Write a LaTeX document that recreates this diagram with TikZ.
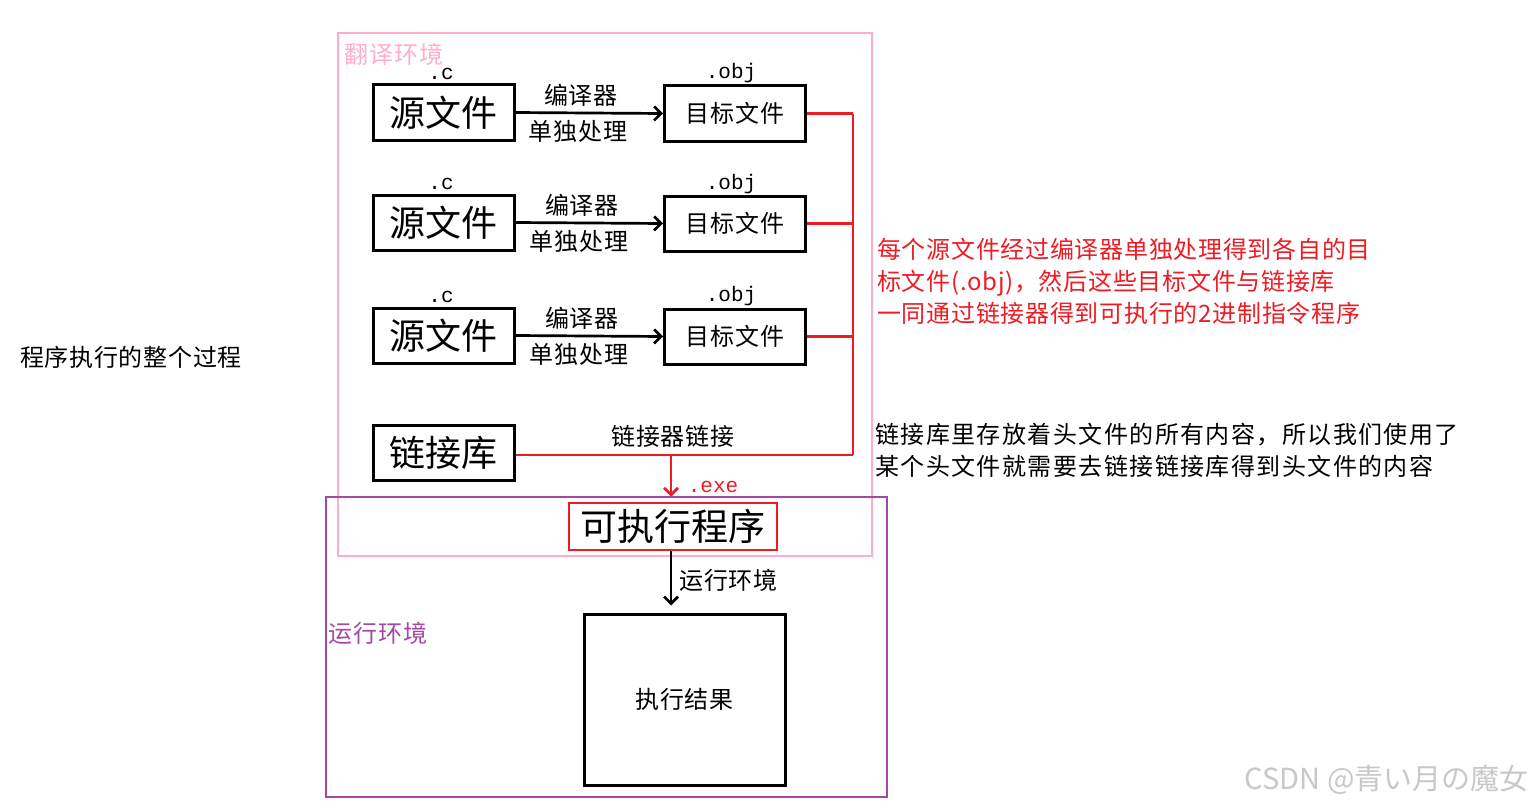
\documentclass[tikz,border=0pt]{standalone}
\usepackage{fontspec}
\setmainfont{Noto Sans CJK SC}
\newfontfamily\jpfont{Noto Sans CJK JP}
\newfontfamily\monof{Liberation Mono}
\newfontfamily\spacedf[LetterSpace=3]{Noto Sans CJK SC}
\newfontfamily\widef[LetterSpace=6]{Noto Sans CJK SC}
\usetikzlibrary{arrows.meta}
\definecolor{pinkc}{RGB}{255,174,201}
\definecolor{purplec}{RGB}{163,73,164}
\definecolor{redc}{RGB}{237,28,36}
\definecolor{wmc}{RGB}{200,200,200}
\begin{document}
\begin{tikzpicture}[x=1pt,y=-1pt,
  box/.style={draw=black,line width=3pt,inner sep=0pt,minimum width=141pt,minimum height=55pt},
  bigtxt/.style={font=\fontsize{36}{38}\selectfont},
  smalltxt/.style={font=\spacedf\fontsize{24}{32}\selectfont},
  monotxt/.style={font=\monof\fontsize{21}{22}\selectfont,inner sep=0pt},
  arr/.style={line width=2.7pt,-{Straight Barb[length=7pt,width=14pt,line width=2.7pt]}},
  redline/.style={draw=redc,line width=2.5pt},
  envbox/.style={line width=2.5pt}]
\useasboundingbox (0,0) rectangle (1535,808);
% environment frames
\draw[envbox,draw=pinkc] (338,33) rectangle (872,556);
\draw[envbox,draw=purplec] (326,497) rectangle (887,797);
\node[smalltxt,text=pinkc,inner sep=0pt] (lbltrans) at (394,54) {翻译环境};
\node[smalltxt,text=purplec,inner sep=0pt] (lblrun) at (378,633) {运行环境};
% source boxes
\node[box,bigtxt] (src1) at (443.5,112.5) {源文件};
\node[box,bigtxt] (src2) at (443.5,222.5) {源文件};
\node[box,bigtxt] (src3) at (443.5,335.5) {源文件};
\node[box,bigtxt] (lib) at (443.5,453) {链接库};
% target boxes
\node[box,smalltxt] (tgt1) at (735,113.5) {目标文件};
\node[box,smalltxt] (tgt2) at (735,223.5) {目标文件};
\node[box,smalltxt] (tgt3) at (735,336.5) {目标文件};
% extension labels
\node[monotxt] (c1) at (441,74) {.c};
\node[monotxt] (c2) at (441,184) {.c};
\node[monotxt] (c3) at (441,297) {.c};
\node[monotxt] (o1) at (731,73) {.obj};
\node[monotxt] (o2) at (731,184) {.obj};
\node[monotxt] (o3) at (731,296) {.obj};
% compile arrows
\draw[arr] (src1.east) -- (tgt1.west);
\draw[arr] (src2.east) -- (tgt2.west);
\draw[arr] (src3.east) -- (tgt3.west);
\node[smalltxt] (k1) at (581,95) {编译器};
\node[smalltxt] (d1) at (578,131) {单独处理};
\node[smalltxt] (k2) at (582,205) {编译器};
\node[smalltxt] (d2) at (579,241) {单独处理};
\node[smalltxt] (k3) at (582,318) {编译器};
\node[smalltxt] (d3) at (579,354) {单独处理};
% linking bus
\coordinate (bus) at (853,0);
\coordinate (join) at (671,455);
\draw[redline] (tgt1.east) -- (tgt1.east -| bus);
\draw[redline] (tgt2.east) -- (tgt2.east -| bus);
\draw[redline] (tgt3.east) -- (tgt3.east -| bus);
\draw[redline] (tgt1.east -| bus) -- (bus |- join);
\draw[redline] (lib.east |- join) -- (bus |- join);
\node[smalltxt] (lnk) at (673,436) {链接器链接};
% executable
\node[draw=redc,line width=2.5pt,inner sep=0pt,minimum width=208pt,minimum height=47pt,font=\fontsize{37}{38}\selectfont] (exe) at (673,526.5) {可执行程序};
\draw[arr,draw=redc] (join) -- (join |- exe.north) [shorten >=5pt];
\node[monotxt,text=redc] (exet) at (713,487) {.exe};
% result
\node[box,minimum width=201pt,minimum height=171pt,smalltxt] (res) at (684.5,699.5) {执行结果};
\coordinate (exeb) at (671,551);
\draw[arr,shorten >=7pt] (exeb) -- (exeb |- res.north);
\node[smalltxt,anchor=west] (runl) at (676,580) {运行环境};
% texts
\node[smalltxt] (title) at (131,357) {程序执行的整个过程};
\node[smalltxt,text=redc,anchor=north west,align=left,inner sep=0pt] (note1) at (877,238) {每个源文件经过编译器单独处理得到各自的目\\标文件(.obj)，然后这些目标文件与链接库\\一同通过链接器得到可执行的2进制指令程序};
\node[font=\widef\fontsize{24}{32}\selectfont,anchor=north west,align=left,inner sep=0pt] (note2) at (875,423) {链接库里存放着头文件的所有内容，所以我们使用了\\某个头文件就需要去链接链接库得到头文件的内容};
\node[text=wmc,font=\jpfont\fontsize{29}{30}\selectfont,anchor=east] (wm) at (1532,780) {CSDN @青い月の魔女};
\end{tikzpicture}
\end{document}
